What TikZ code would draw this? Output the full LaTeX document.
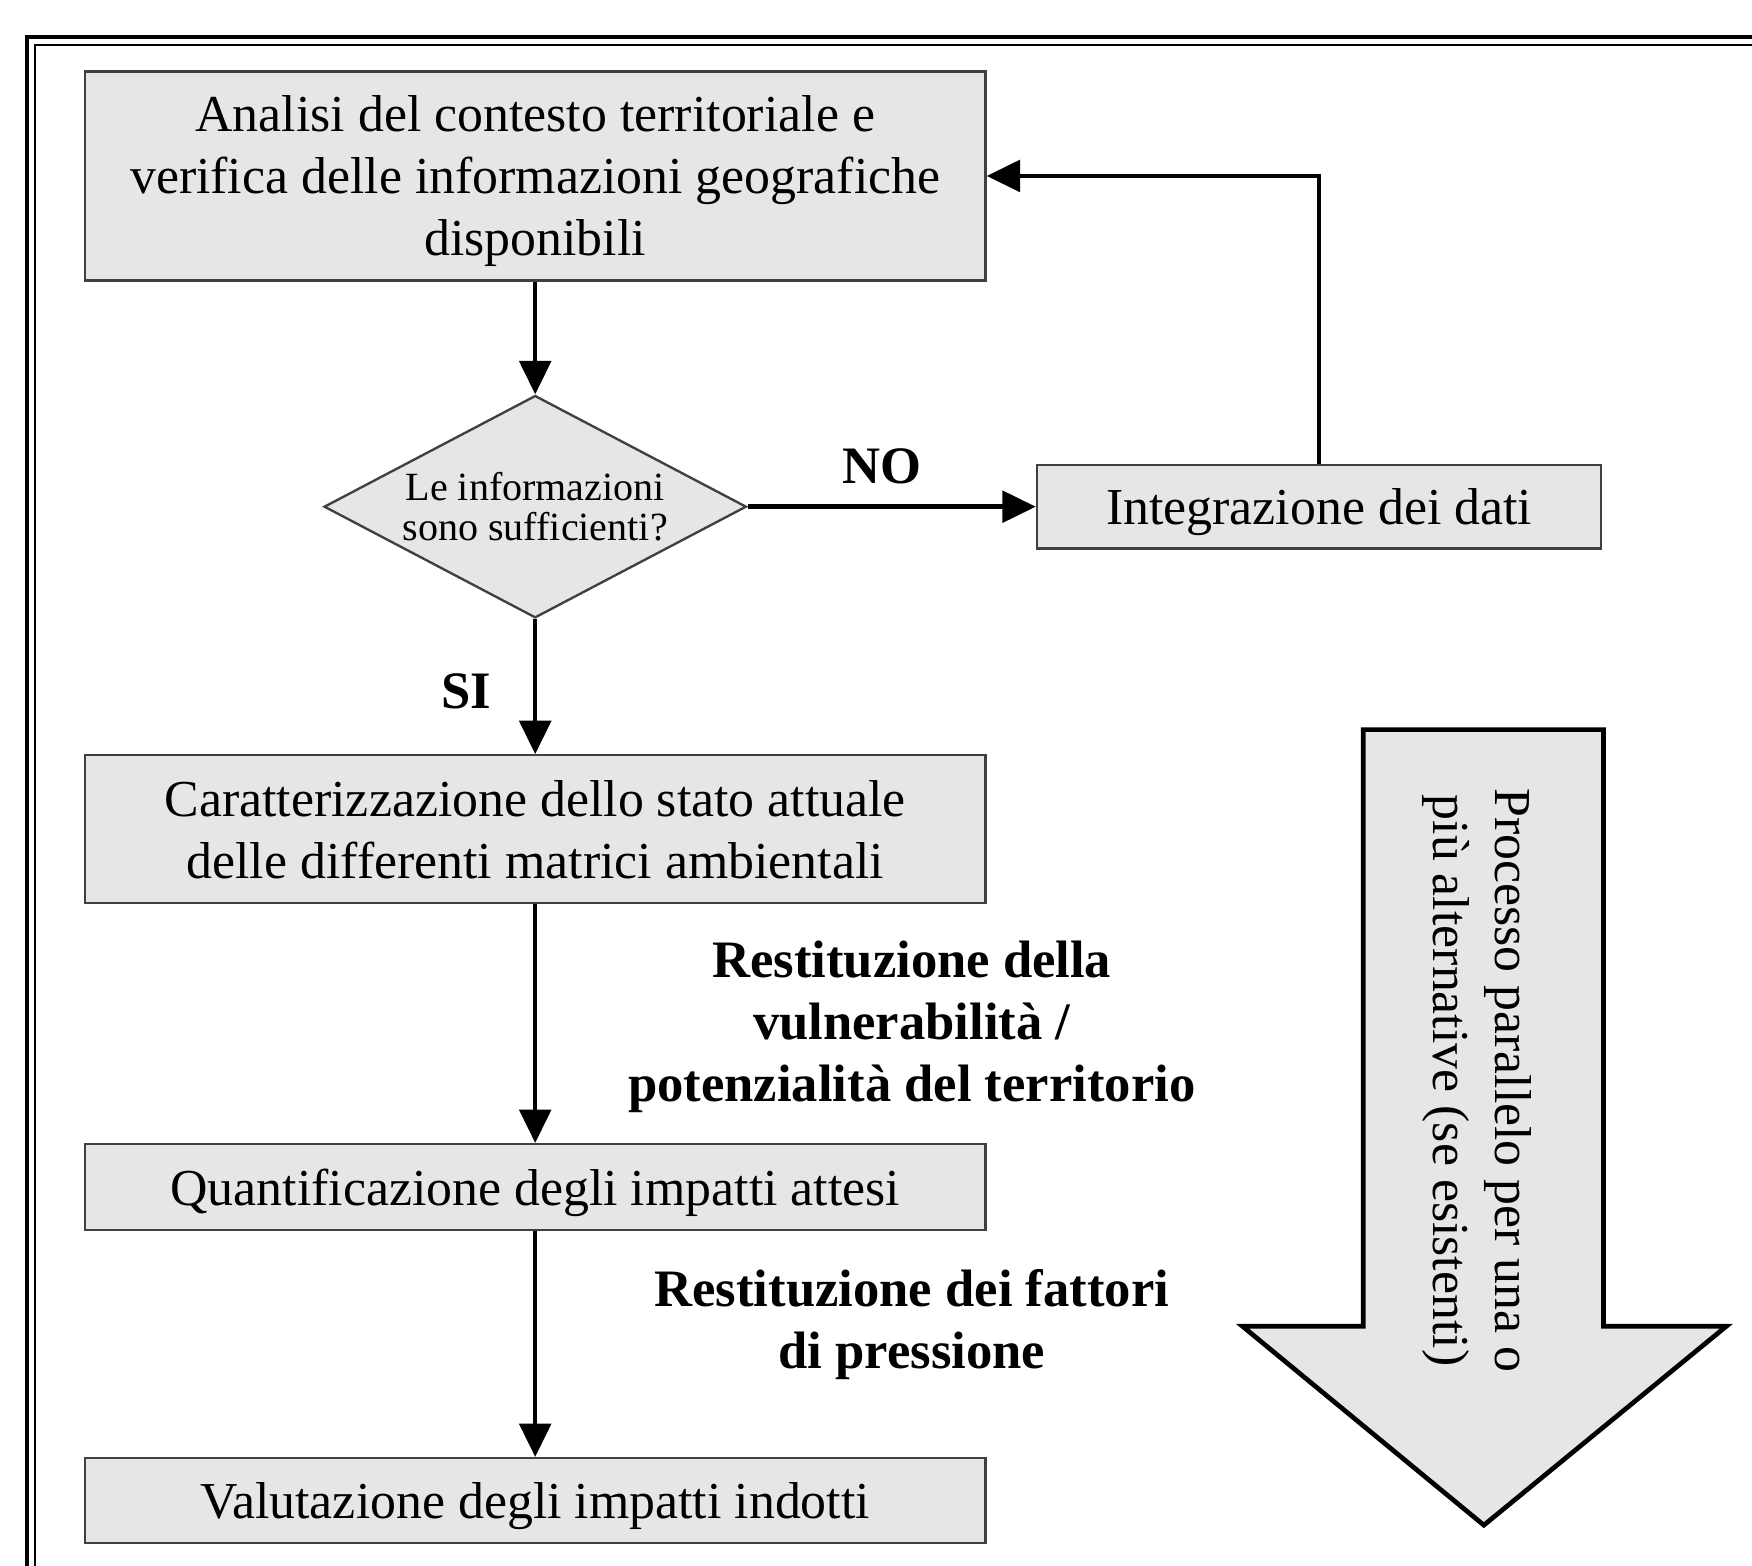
\documentclass[tikz,border=0pt]{standalone}
\usepackage{fontspec}
\setmainfont{Liberation Serif}
\usepackage{xcolor}
\usepackage{tikz}
\usetikzlibrary{shapes,arrows,positioning,calc,arrows.meta}
\definecolor{boxgray}{RGB}{230,230,230}
\tikzset{
    stepbox/.style={draw=black!75, line width=0.6pt, fill=boxgray, inner sep=0pt, text depth=0pt, align=center, font=\fontsize{13.2}{15.8}\selectfont},
    mainbox/.style={stepbox, minimum width=8.06cm},
    decision/.style={diamond, aspect=1.9, draw=black!75, line width=0.6pt, fill=boxgray, inner sep=0pt, align=center, minimum width=3.78cm, minimum height=1.99cm, font=\fontsize{10.2}{10.4}\selectfont},
    lbl/.style={align=center, font=\bfseries\fontsize{13.4}{15.8}\selectfont},
    arr/.style={-{Triangle[length=8.5pt,width=8pt]}, line width=1.15pt}
}

\begin{document}
\begin{tikzpicture}
    \useasboundingbox (0,0) rectangle (15.68,14.01);
    \clip (0,0) rectangle (15.68,14.01);

    % Frame
    \draw[line width=1.1pt] (0.24,-1) -- (0.24,13.68) -- (17,13.68);
    \draw[line width=0.5pt] (0.31,-1) -- (0.31,13.61) -- (17,13.61);

    % Main steps
    \node[mainbox, minimum height=1.87cm] (analisi) at (4.79,12.435) {Analisi del contesto territoriale e\\verifica delle informazioni geografiche\\disponibili};
    \node[decision] (info) at (4.79,9.475) {Le informazioni\\sono sufficienti?};
    \node[stepbox, minimum width=5.05cm, minimum height=0.75cm] (integ) at (11.805,9.475) {Integrazione dei dati};
    \node[mainbox, minimum height=1.32cm] (caratt) at (4.79,6.59) {Caratterizzazione dello stato attuale\\delle differenti matrici ambientali};
    \node[mainbox, minimum height=0.77cm] (quant) at (4.79,3.385) {Quantificazione degli impatti attesi};
    \node[mainbox, minimum height=0.76cm] (valut) at (4.79,0.58) {Valutazione degli impatti indotti};

    % Connectors
    \draw[arr] (analisi) -- (info);
    \draw[arr] (info) -- (integ);
    \draw[arr] (integ.north) |- (analisi.east);
    \draw[arr] (info) -- (caratt);
    \draw[arr] (caratt) -- (quant);
    \draw[arr] (quant) -- (valut);

    % Labels
    \node[lbl] (no) at (7.89,9.84) {NO};
    \node[lbl] (si) at (4.17,7.82) {SI};
    \node[lbl] (restvuln) at (8.16,4.82) {Restituzione della\\vulnerabilità /\\potenzialità del territorio};
    \node[lbl] (restpress) at (8.16,2.155) {Restituzione dei fattori\\di pressione};

    % Parallel process arrow
    \draw[line width=1.2pt, fill=boxgray, line join=miter]
        (12.20,7.48) -- (14.35,7.48) -- (14.35,2.14) -- (15.45,2.14)
        -- (13.28,0.36) -- (11.12,2.14) -- (12.20,2.14) -- cycle;
    \node[rotate=-90, align=center, font=\fontsize{13.2}{15.8}\selectfont] (parallelo) at (13.22,4.34) {Processo parallelo per una o\\più alternative (se esistenti)};
\end{tikzpicture}
\end{document}
